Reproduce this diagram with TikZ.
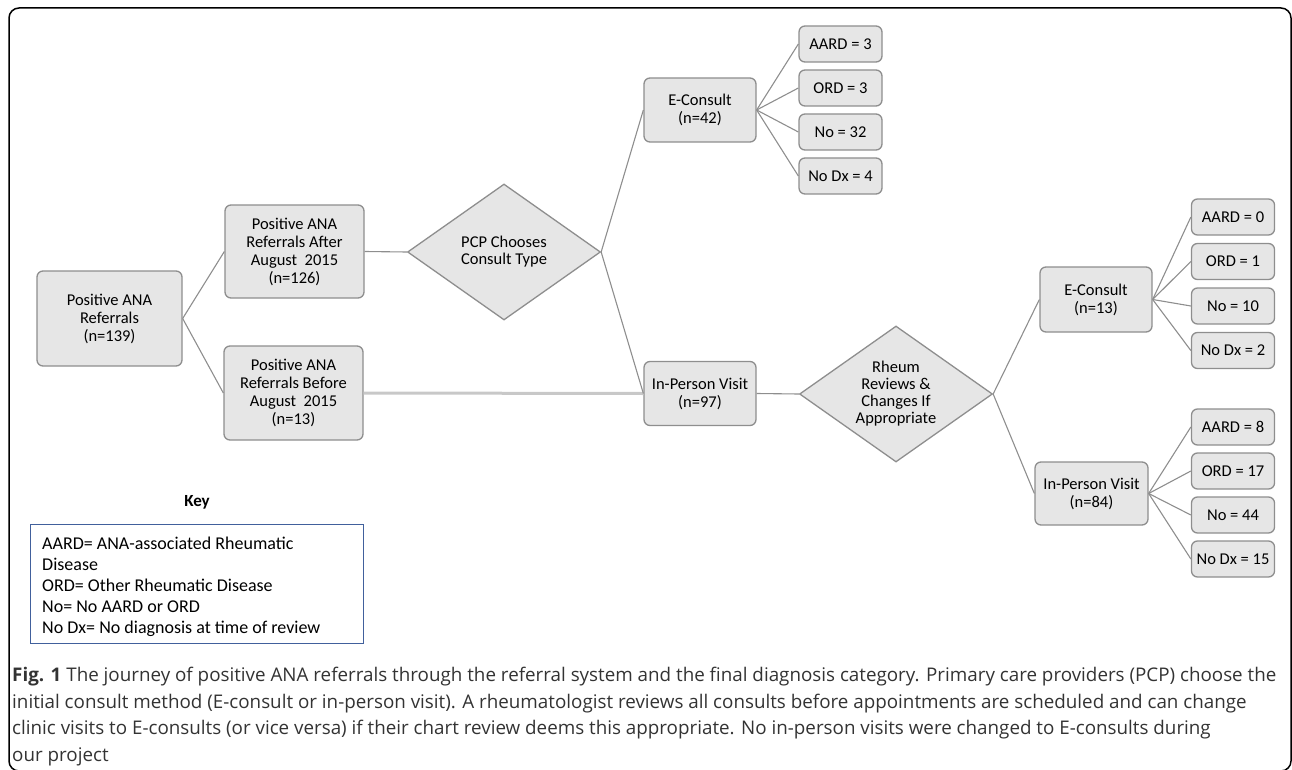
\documentclass[tikz,border=0pt]{standalone}
\usepackage{fontspec}
\setmainfont{Carlito}
\newfontfamily\capfont{Open Sans}
\usetikzlibrary{shapes.geometric}

\definecolor{boxfill}{HTML}{E6E6E6}
\definecolor{boxline}{HTML}{8E8E8E}
\definecolor{paleline}{HTML}{C8C8C8}
\definecolor{keyline}{HTML}{41609C}
\definecolor{captext}{HTML}{333333}

\begin{document}
\begin{tikzpicture}[x=1pt,y=-1pt,
    box/.style={draw=boxline, fill=boxfill, line width=1.3pt, rounded corners=6pt,
        align=center, inner sep=0pt, font=\fontsize{16.5}{18}\selectfont},
    leaf/.style={box, minimum width=83pt, minimum height=36pt},
    mid/.style={box, minimum width=112pt, minimum height=64pt},
    choice/.style={diamond, draw=boxline, fill=boxfill, line width=1.3pt, align=center,
        inner sep=0pt, aspect=1.4, minimum width=193pt, minimum height=136pt,
        font=\fontsize{16.5}{17}\selectfont},
    link/.style={draw=boxline, line width=1.1pt}]
    \useasboundingbox (0,0) rectangle (1292,770);

    \draw[line width=1.5pt, rounded corners=10pt] (9,8) rectangle (1291,771);

    \node[box, minimum width=145pt, minimum height=95pt] (root) at (109.5,318.5) {Positive ANA\\Referrals\\(n=139)};
    \node[box, minimum width=139pt, minimum height=93pt] (after) at (294.5,251.5) {Positive ANA\\Referrals After\\August\ \ 2015\\(n=126)};
    \node[box, minimum width=139pt, minimum height=94pt] (before) at (293.5,393) {Positive ANA\\Referrals Before\\August\ \ 2015\\(n=13)};

    \node[choice] (pcp) at (504,252) {PCP Chooses\\Consult Type};
    \node[mid] (econ) at (700,110) {E-Consult\\(n=42)};
    \node[mid] (visit) at (700,393.5) {In-Person Visit\\(n=97)};

    \node[choice] (rheum) at (896,394) {Rheum\\Reviews \&\\Changes If\\Appropriate};
    \node[mid, minimum height=65pt] (econb) at (1096,299.5) {E-Consult\\(n=13)};
    \node[mid, minimum width=113pt, minimum height=63pt] (visitb) at (1091.5,493.5) {In-Person Visit\\(n=84)};

    \foreach \t [count=\i] in {AARD = 3, ORD = 3, No = 32, No Dx = 4}
        \node[leaf] (ea\i) at (840.5,44*\i) {\t};
    \foreach \t [count=\i] in {AARD = 0, ORD = 1, No = 10, No Dx = 2}
        \node[leaf] (eb\i) at (1233,172.5+44.5*\i) {\t};
    \foreach \t [count=\i] in {AARD = 8, ORD = 17, No = 44, No Dx = 15}
        \node[leaf] (vb\i) at (1233,383+44*\i) {\t};

    \draw[link] (root.east) -- (after.west);
    \draw[link] (root.east) -- (before.west);
    \draw[link] (after.east) -- (pcp.west);
    \draw[draw=paleline, line width=3pt] (before.east) -- (visit.west);
    \draw[link] (pcp.east) -- (econ.west);
    \draw[link] (pcp.east) -- (visit.west);
    \draw[link] (visit.east) -- (rheum.west);
    \draw[link] (rheum.east) -- (econb.west);
    \draw[link] (rheum.east) -- (visitb.west);
    \foreach \i in {1,...,4} {
        \draw[link] (econ.east) -- (ea\i.west);
        \draw[link] (econb.east) -- (eb\i.west);
        \draw[link] (visitb.east) -- (vb\i.west);
    }

    % key
    \node[font=\fontsize{17}{18}\selectfont\bfseries] (keyhead) at (197,502) {Key};
    \node[draw=keyline, line width=1.2pt, anchor=north west, minimum width=333pt,
        minimum height=119pt, inner sep=0pt] (keybox) at (30,524) {};
    \node[anchor=north west, align=left, inner sep=0pt,
        font=\fontsize{18}{21}\selectfont] (keytext) at (42,537)
        {AARD= ANA-associated Rheumatic\\Disease\\ORD= Other Rheumatic Disease\\No= No AARD or ORD\\No Dx= No diagnosis at time of review};

    % caption
    \node[anchor=north west, align=left, inner sep=0pt, text=captext,
        font=\capfont\fontsize{18.8}{26.5}\selectfont] (caption) at (12,667)
        {\textbf{Fig. 1} The journey of positive ANA referrals through the referral system and the final diagnosis category. Primary care providers (PCP) choose the\\
        initial consult method (E-consult or in-person visit). A rheumatologist reviews all consults before appointments are scheduled and can change\\
        clinic visits to E-consults (or vice versa) if their chart review deems this appropriate. No in-person visits were changed to E-consults during\\
        our project};
\end{tikzpicture}
\end{document}
